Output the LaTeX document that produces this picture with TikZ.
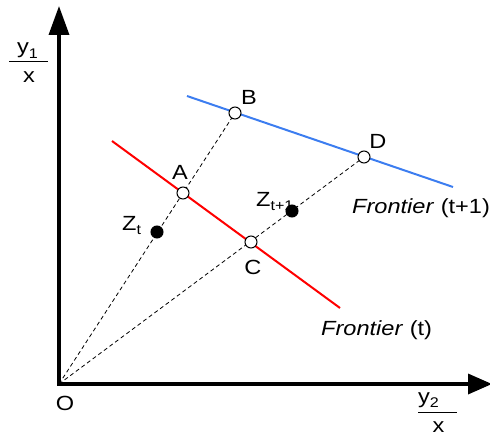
\documentclass[tikz,border=0pt]{standalone}
\usepackage{fontspec}
\setmainfont{Liberation Sans}[FakeStretch=1.15]
\usetikzlibrary{arrows.meta}
\definecolor{frontblue}{RGB}{60,125,240}
\definecolor{frontred}{RGB}{255,0,0}
\newcommand\mysub[1]{\raisebox{-4.5pt}{\fontsize{14}{14}\selectfont #1}}
\begin{document}
\begin{tikzpicture}[x=1pt,y=-1pt,
  lbl/.style={inner sep=0pt,anchor=base,font=\fontsize{20.5}{24}\selectfont},
  axis/.style={line width=3.5pt,line join=miter},
  frontier/.style={line width=2pt},
  ray/.style={line width=0.8pt,dash pattern=on 4pt off 3pt},
  opendot/.style={circle,draw,fill=white,line width=1pt,minimum size=12pt,inner sep=0pt},
  fulldot/.style={circle,draw,fill=black,line width=1pt,minimum size=12pt,inner sep=0pt},
  fracbar/.style={line width=1.4pt}]
\useasboundingbox (0,0) rectangle (490,436);
% axes
\coordinate (O) at (59,384);
\coordinate (ytip) at (59,6);
\coordinate (xtip) at (492,384);
\draw[axis,{Triangle[length=29pt,width=20pt]}-{Triangle[length=24pt,width=20pt]}] (ytip) -- (O) -- (xtip);
% frontiers
\coordinate (b1) at (187,96);
\coordinate (b2) at (453,187);
\coordinate (r1) at (112,141);
\coordinate (r2) at (340,308);
\draw[frontier,frontblue] (b1) -- (b2);
\draw[frontier,frontred] (r1) -- (r2);
% points
\coordinate (Bp) at (235,113);
\coordinate (Dp) at (364,157);
\draw[ray] (O) -- (Bp);
\draw[ray] (O) -- (Dp);
\node[opendot] (B) at (Bp) {};
\node[opendot] (D) at (Dp) {};
\node[opendot] (A) at (183,193) {};
\node[opendot] (C) at (251,242) {};
\node[fulldot] (Zt) at (157,232) {};
\node[fulldot] (Zt1) at (292,211) {};
% labels
\node[lbl] (lB) at (249,104) {B};
\node[lbl] (lA) at (180,179) {A};
\node[lbl] (lC) at (253,274) {C};
\node[lbl] (lD) at (378,148) {D};
\node[lbl] (lO) at (65,410) {O};
\node[lbl,anchor=base west] (lZt) at (122,230) {Z\mysub{t}};
\node[lbl,anchor=base west] (lZt1) at (256,206) {Z\mysub{t+1}};
\node[lbl,anchor=base west] (lF1) at (352,213) {\textit{Frontier} (t+1)};
\node[lbl,anchor=base west] (lF0) at (321,335) {\textit{Frontier} (t)};
% axis labels
\node[lbl,anchor=base west] (ly1) at (17,54) {y\mysub{1}};
\coordinate (yb1) at (9,61.7);
\coordinate (yb2) at (48,61.7);
\draw[fracbar] (yb1) -- (yb2);
\node[lbl] (lx1) at (29,83) {x};
\node[lbl,anchor=base west] (ly2) at (418,403) {y\mysub{2}};
\coordinate (xb1) at (418,412.5);
\coordinate (xb2) at (457,412.5);
\draw[fracbar] (xb1) -- (xb2);
\node[lbl] (lx2) at (438.5,432) {x};
\end{tikzpicture}
\end{document}
